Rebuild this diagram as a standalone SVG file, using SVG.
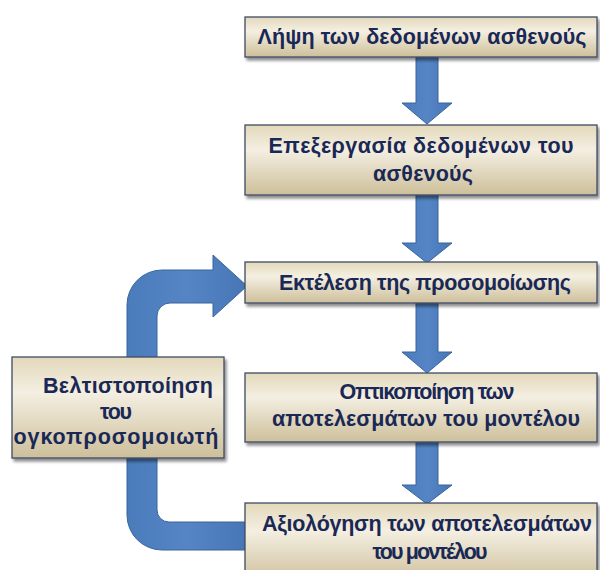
<svg xmlns="http://www.w3.org/2000/svg" width="600" height="570" viewBox="0 0 600 570">
<defs>
<linearGradient id="boxg" x1="0" y1="0" x2="0" y2="1">
<stop offset="0" stop-color="#e3d8ba"/>
<stop offset="0.35" stop-color="#f4efe2"/>
<stop offset="1" stop-color="#cdbf9a"/>
</linearGradient>
<linearGradient id="arrg" x1="0" y1="0" x2="1" y2="0">
<stop offset="0" stop-color="#4a7bbb"/>
<stop offset="0.5" stop-color="#5585c4"/>
<stop offset="1" stop-color="#4676b5"/>
</linearGradient>
<filter id="sh" x="-10%" y="-10%" width="120%" height="130%">
<feGaussianBlur in="SourceAlpha" stdDeviation="1.5"/>
<feOffset dx="2" dy="3" result="b"/>
<feComponentTransfer><feFuncA type="linear" slope="0.45"/></feComponentTransfer>
<feMerge><feMergeNode/><feMergeNode in="SourceGraphic"/></feMerge>
</filter>
</defs>
<style>
.box{fill:url(#boxg);stroke:#3e4b66;stroke-width:1.3;filter:url(#sh)}
.t{font-family:"Liberation Sans",Arial,sans-serif;font-weight:bold;font-size:21.5px;fill:#1a2856;text-anchor:middle}
.arr{fill:url(#arrg);stroke:#3a659e;stroke-width:1}
</style>
<g id="connectors">
<path class="arr" d="M416,57 H438 V103 H452 L427,124 L402,103 H416 Z"/>
<path class="arr" d="M416,195 H438 V243 H452 L427,263 L402,243 H416 Z"/>
<path class="arr" d="M416,303 H438 V352 H452 L427,373 L402,352 H416 Z"/>
<path class="arr" d="M416,442 H438 V485 H452 L427,504 L402,485 H416 Z"/>
<path class="arr" d="M246,550 H162 A35,35 0 0 1 127,515 V305 A35,35 0 0 1 162,270 H213 V255 L247,286 L213,317 V303 H170 A13,13 0 0 0 157,316 V510 A12,12 0 0 0 169,522 H246 Z"/>
</g>
<g id="n1">
<rect class="box" x="245" y="17" width="352" height="40"/>
<text class="t" x="422" y="44" textLength="329">Λήψη των δεδομένων ασθενούς</text>
</g>
<g id="n2">
<rect class="box" x="245" y="125" width="352" height="70"/>
<text class="t" x="421" y="153" textLength="305">Επεξεργασία δεδομένων του</text>
<text class="t" x="423" y="181" textLength="100">ασθενούς</text>
</g>
<g id="n3">
<rect class="box" x="245" y="262" width="352" height="41"/>
<text class="t" x="425" y="290" textLength="292">Εκτέλεση της προσομοίωσης</text>
</g>
<g id="n4">
<rect class="box" x="245" y="373" width="352" height="69"/>
<text class="t" x="427" y="399" textLength="175">Οπτικοποίηση των</text>
<text class="t" x="426" y="426" textLength="308">αποτελεσμάτων του μοντέλου</text>
</g>
<g id="n5">
<rect class="box" x="245" y="503" width="352" height="80"/>
<text class="t" x="427" y="531" textLength="330">Αξιολόγηση των αποτελεσμάτων</text>
<text class="t" x="430" y="559" textLength="115">του μοντέλου</text>
</g>
<g id="n6">
<rect class="box" x="12" y="357" width="212" height="101"/>
<text class="t" x="128" y="393" textLength="170">Βελτιστοποίηση</text>
<text class="t" x="116" y="419" textLength="32">του</text>
<text class="t" x="116" y="444" textLength="205">ογκοπροσομοιωτή</text>
</g>
</svg>
